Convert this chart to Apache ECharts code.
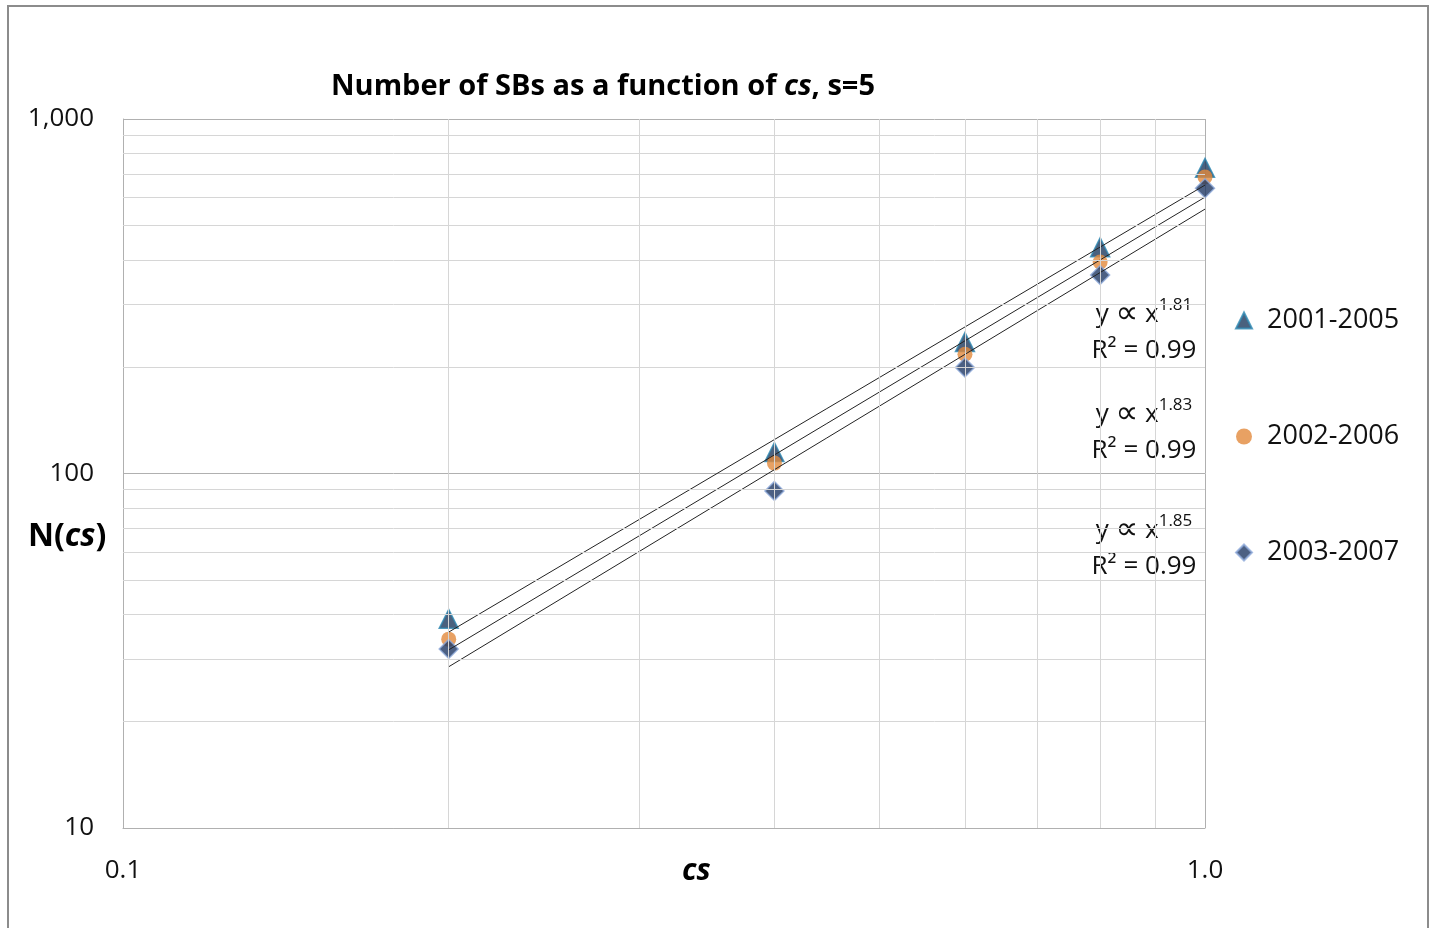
<!DOCTYPE html>
<html>
<head>
<meta charset="utf-8">
<title>Number of SBs as a function of cs</title>
<script src="https://cdn.jsdelivr.net/npm/echarts@6/dist/echarts.min.js"></script>
<style>
  html, body { margin: 0; padding: 0; background: #fff; }
  #chart { width: 1430px; height: 928px; }
</style>
</head>
<body>
<div id="chart"></div>
<script>
// values
const csValues = [0.2, 0.4, 0.6, 0.8, 1.0]
const sb2001 = [38.9, 115, 235, 435, 728]
const sb2002 = [34.1, 107, 217, 395, 686]
const sb2003 = [32.0, 89.3, 199, 363, 638]

// power-law trend lines, two end points each
const trendX = [0.2, 1.0]
const trend2001 = [35.7, 651]
const trend2002 = [31.8, 602]
const trend2003 = [28.5, 557]

const seriesNames = ['2001-2005', '2002-2006', '2003-2007']
const exponents = ['1.81', '1.83', '1.85']
const rSquared = ['0.99', '0.99', '0.99']

// minor grid lines of the log axes
const minorX = [0.2, 0.3, 0.4, 0.5, 0.6, 0.7, 0.8, 0.9]
const minorY = [20, 30, 40, 50, 60, 70, 80, 90, 200, 300, 400, 500, 600, 700, 800, 900]

const FONT = '"Open Sans"'
const pairs = (xs, ys) => xs.map((x, i) => [x, ys[i]])

const chart = echarts.init(document.getElementById('chart'))

// fit annotations next to the legend
const annoY = [333, 433, 549]
const annotations = exponents.map((e, i) => ({
  type: 'text',
  x: 1144,
  y: annoY[i] - 36,
  style: {
    text: '{a|y }{p|∝}{a| x}{s|' + e + '}\n{a|R² = ' + rSquared[i] + '}',
    align: 'center',
    fill: '#111',
    rich: {
      a: { fontFamily: FONT, fontSize: 26, lineHeight: 36, color: '#111' },
      p: { fontFamily: 'DejaVu Sans', fontSize: 32, lineHeight: 36, color: '#111' },
      s: { fontFamily: FONT, fontSize: 17, lineHeight: 36, verticalAlign: 'top', color: '#111' }
    }
  }
}))

const trendLine = (data) => ({
  type: 'line',
  data: pairs(trendX, data),
  symbol: 'none',
  silent: true,
  z: 4,
  lineStyle: { color: '#222', width: 1 }
})

chart.setOption({
  animation: false,
  textStyle: { fontFamily: FONT },
  title: {
    text: '{b|Number of SBs as a function of }{i|cs}{b|, s=5}',
    left: 331,
    top: 72,
    padding: 0,
    textStyle: {
      rich: {
        b: { fontFamily: FONT, fontSize: 29, fontWeight: 'bold', color: '#000' },
        i: { fontFamily: FONT, fontSize: 29, fontWeight: 'bold', fontStyle: 'italic', color: '#000' }
      }
    }
  },
  grid: { left: 123, right: 225, top: 119, bottom: 100 },
  legend: {
    data: seriesNames,
    orient: 'vertical',
    left: 1235,
    top: 307,
    padding: 0,
    itemGap: 89,
    itemWidth: 16,
    itemHeight: 16,
    textStyle: { fontFamily: FONT, fontSize: 27, color: '#111', padding: [0, 0, 0, 10] }
  },
  xAxis: {
    type: 'log',
    min: 0.1,
    max: 1,
    logBase: 10,
    axisLine: { lineStyle: { color: '#b0b0b0' } },
    axisTick: { show: false },
    axisLabel: {
      margin: 30,
      fontSize: 26,
      color: '#111',
      formatter: v => v >= 1 ? v.toFixed(1) : String(v)
    },
    splitLine: { show: true, lineStyle: { color: '#b0b0b0' } }
  },
  yAxis: {
    type: 'log',
    min: 10,
    max: 1000,
    logBase: 10,
    axisLine: { show: true, lineStyle: { color: '#b0b0b0' } },
    axisTick: { show: false },
    axisLabel: {
      margin: 29,
      fontSize: 26,
      color: '#111',
      formatter: v => v.toLocaleString('en-US')
    },
    splitLine: { show: true, lineStyle: { color: '#b0b0b0' } }
  },
  series: [
    {
      type: 'line',
      data: [],
      silent: true,
      z: 1,
      markLine: {
        silent: true,
        symbol: 'none',
        label: { show: false },
        lineStyle: { color: '#d6d6d6', width: 1, type: 'solid' },
        data: minorX.map(v => ({ xAxis: v })).concat(minorY.map(v => ({ yAxis: v })))
      }
    },
    {
      name: seriesNames[0],
      type: 'scatter',
      symbol: 'triangle',
      symbolSize: 19,
      z: 3,
      itemStyle: { color: '#1d3a5e', borderColor: '#2e8ab4', borderWidth: 1.5 },
      data: pairs(csValues, sb2001)
    },
    {
      name: seriesNames[1],
      type: 'scatter',
      symbol: 'circle',
      symbolSize: 15,
      z: 3,
      itemStyle: { color: '#e2893c' },
      data: pairs(csValues, sb2002)
    },
    {
      name: seriesNames[2],
      type: 'scatter',
      symbol: 'diamond',
      symbolSize: 19,
      z: 3,
      itemStyle: { color: '#1f3864', borderColor: '#8eaadb', borderWidth: 1.5 },
      data: pairs(csValues, sb2003)
    },
    trendLine(trend2001),
    trendLine(trend2002),
    trendLine(trend2003)
  ],
  graphic: [
    {
      type: 'rect',
      shape: { x: 8, y: 6, width: 1420, height: 940 },
      style: { fill: 'none', stroke: '#8c8c8c', lineWidth: 2 },
      silent: true
    },
    {
      type: 'text',
      left: 28,
      top: 521,
      style: {
        text: '{b|N(}{i|cs}{b|)}',
        rich: {
          b: { fontFamily: FONT, fontSize: 32, fontWeight: 'bold', color: '#000' },
          i: { fontFamily: FONT, fontSize: 32, fontWeight: 'bold', fontStyle: 'italic', color: '#000' }
        }
      }
    },
    {
      type: 'text',
      left: 682,
      top: 856,
      style: {
        text: 'cs',
        fontFamily: FONT,
        fontSize: 30,
        fontWeight: 'bold',
        fontStyle: 'italic',
        fill: '#000'
      }
    }
  ].concat(annotations)
})
</script>
</body>
</html>
